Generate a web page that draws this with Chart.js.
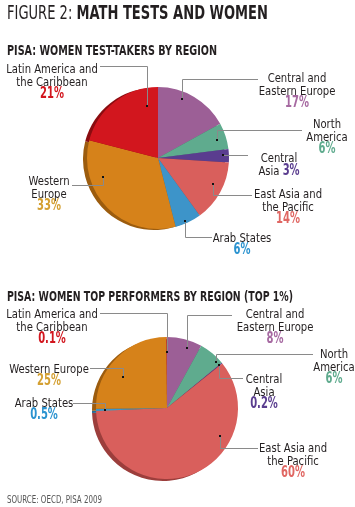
<!DOCTYPE html>
<html><head><meta charset="utf-8">
<script src="https://cdn.jsdelivr.net/npm/chart.js@4.4.1/dist/chart.umd.min.js"></script>
<style>
html,body{margin:0;padding:0;background:#fff;width:355px;height:507px;overflow:hidden;}
body{position:relative;font-family:"DejaVu Sans Condensed","Liberation Sans Narrow","Arial Narrow",sans-serif;font-stretch:condensed;color:#231f20;}
canvas{position:absolute;left:0;top:0;}
.t{position:absolute;left:7px;white-space:nowrap;z-index:2;transform-origin:0 0;}
#title{top:1px;font-size:19px;line-height:22px;font-weight:400;}
#title b{font-weight:700;}
.sub{font-size:14px;font-weight:700;line-height:17px;}
#sub1{top:42px;}
#sub2{top:288px;}
#src{top:494px;font-size:10px;line-height:12px;color:#555;}
</style></head><body>
<div class="t" id="title" data-w="261">FIGURE 2: <b>MATH TESTS AND WOMEN</b></div>
<div class="t sub" id="sub1" data-w="210">PISA: WOMEN TEST-TAKERS BY REGION</div>
<div class="t sub" id="sub2" data-w="286">PISA: WOMEN TOP PERFORMERS BY REGION (TOP 1%)</div>
<div class="t" id="src" data-w="95">SOURCE: OECD, PISA 2009</div>
<div style="position:absolute;left:0;top:0;width:355px;height:507px;"><canvas id="c1" width="355" height="507"></canvas></div>
<div style="position:absolute;left:0;top:0;width:355px;height:507px;"><canvas id="c2" width="355" height="507"></canvas></div>
<script>
// ---- data ----
const regions = ["Central and Eastern Europe","North America","Central Asia","East Asia and the Pacific","Arab States","Western Europe","Latin America and the Caribbean"];
const testTakers = [17, 6, 3, 14, 6, 33, 21];
const topPerformers = [8, 6, 0.2, 60, 0.5, 25, 0.1];
const pctLabels1 = ["17%","6%","3%","14%","6%","33%","21%"];
const pctLabels2 = ["8%","6%","0.2%","60%","0.5%","25%","0.1%"];
// ---- styles ----
const sliceColors = ["#9c5f96","#5fab8e","#5a3d8f","#d95f5c","#3d94c9","#d6821a","#d2161e"];
const rimColors   = ["#6e3f6a","#3f7a63","#3b275f","#9c3e3c","#276a92","#9c5c0e","#8a0c10"];
const textColors  = ["#a669a1","#5fab8e","#5a3d8f","#e06763","#2b93d0","#d4a032","#d2161e"];
const nameLines = [["Central and","Eastern Europe"],["North","America"],["Central","Asia"],["East Asia and","the Pacific"],["Arab States"],["Western","Europe"],["Latin America and","the Caribbean"]];
const nameLines2 = [["Central and","Eastern Europe"],["North","America"],["Central","Asia"],["East Asia and","the Pacific"],["Arab States"],["Western Europe"],["Latin America and","the Caribbean"]];

// squeeze HTML titles to the reference widths
document.querySelectorAll('.t').forEach(el=>{
  const w = el.getBoundingClientRect().width;
  el.style.transform = 'scaleX(' + (parseFloat(el.dataset.w)/w) + ')';
});

// layout: anchor (t along arc, f of radius), elbowY, endX, label cx, first baseline
const layout1 = [
 {t:0.36,f:0.90,ey:79, ex:258,cx:297,y:82},
 {t:0.55,f:0.87,ey:130,ex:302,cx:327,y:128},
 {t:0.43,f:0.92,ey:null,ex:248,cx:279,y:162,inline:true},
 {t:0.43,f:0.86,ey:195,ex:252,cx:288,y:198},
 {t:0.61,f:0.97,ey:237,ex:212,cx:242,y:242},
 {t:0.72,f:0.82,ey:185,ex:72, cx:49, y:185},
 {t:0.84,f:0.75,ey:66, ex:100,cx:52, y:73}
];
const layout2 = [
 {t:0.64,f:0.89,ey:315,ex:232,cx:275,y:318},
 {t:0.83,f:0.95,ey:354,ex:313,cx:334,y:358},
 {t:0.5, f:0.95,ey:378,ex:243,cx:264,y:383},
 {t:0.31,f:0.84,ey:448,ex:258,cx:293,y:452},
 {t:0.5, f:0.87,ey:403,ex:73, cx:44, y:407},
 {t:0.39,f:0.76,ey:368,ex:90, cx:49, y:373},
 {t:0.5, f:0.79,ey:313,ex:100,cx:52, y:318}
];
const FONT = '"DejaVu Sans Condensed","Liberation Sans Narrow","Arial Narrow",sans-serif';
const NAME_FONT = '13px ' + FONT, NAME_SX = 0.86;
const PCT_FONT = 'bold 15px ' + FONT, PCT_SX = 0.74;

function txt(ctx, s, x, y, align, sx){
  ctx.save(); ctx.translate(x, y); ctx.scale(sx, 1);
  ctx.textAlign = align; ctx.textBaseline = 'alphabetic';
  ctx.fillText(s, 0, 0); ctx.restore();
}
function arcPath(ctx, x, y, r, a0, a1){
  ctx.beginPath(); ctx.moveTo(x,y); ctx.arc(x,y,r,a0,a1); ctx.closePath();
}
const rimPlugin = {
  id:'rim',
  beforeDatasetsDraw(chart, args, opts){
    const ctx = chart.ctx; const meta = chart.getDatasetMeta(0);
    ctx.save();
    meta.data.forEach((arc,i)=>{
      const p = arc.getProps(['x','y','startAngle','endAngle','outerRadius']);
      ctx.fillStyle = rimColors[i];
      arcPath(ctx, p.x+opts.dx, p.y+opts.dy, p.outerRadius, p.startAngle, p.endAngle);
      ctx.fill();
    });
    ctx.restore();
  }
};
const labelPlugin = {
  id:'labels',
  afterDatasetsDraw(chart, args, opts){
    const ctx = chart.ctx; const meta = chart.getDatasetMeta(0);
    const L = opts.layout;
    ctx.save();
    meta.data.forEach((arc,i)=>{
      const p = arc.getProps(['x','y','startAngle','endAngle','outerRadius']);
      const l = L[i];
      const a = p.startAngle + (p.endAngle-p.startAngle)*l.t;
      const dx = Math.round(p.x + Math.cos(a)*p.outerRadius*l.f) + 0.5;
      const dy = Math.round(p.y + Math.sin(a)*p.outerRadius*l.f) + 0.5;
      ctx.strokeStyle = '#8a8a8a'; ctx.lineWidth = 1;
      ctx.beginPath(); ctx.moveTo(dx, dy);
      const ey = l.ey==null ? dy : l.ey + 0.5;
      ctx.lineTo(dx, ey); ctx.lineTo(l.ex, ey); ctx.stroke();
      ctx.fillStyle = '#111'; ctx.fillRect(dx-1.5, dy-1.5, 2, 2);
      const names = opts.names[i];
      let y = l.y;
      names.forEach((s,k)=>{
        if (l.inline && k===names.length-1){
          ctx.font = NAME_FONT;
          const w1 = ctx.measureText(s + ' ').width*NAME_SX;
          ctx.font = PCT_FONT;
          const w2 = ctx.measureText(opts.pcts[i]).width*PCT_SX;
          const x0 = l.cx - (w1+w2)/2;
          ctx.font = NAME_FONT; ctx.fillStyle = '#231f20';
          txt(ctx, s + ' ', x0, y, 'left', NAME_SX);
          ctx.font = PCT_FONT; ctx.fillStyle = textColors[i];
          txt(ctx, opts.pcts[i], x0+w1, y, 'left', PCT_SX);
        } else {
          ctx.font = NAME_FONT; ctx.fillStyle = '#231f20';
          txt(ctx, s, l.cx, y, 'center', NAME_SX);
        }
        y += 13;
      });
      if (!l.inline){
        ctx.font = PCT_FONT; ctx.fillStyle = textColors[i];
        txt(ctx, opts.pcts[i], l.cx, y - 1, 'center', PCT_SX);
      }
    });
    ctx.restore();
  }
};

function makePie(id, values, pcts, names, layout, padding, rim){
  return new Chart(document.getElementById(id), {
    type:'pie',
    data:{labels:regions, datasets:[{data:values, backgroundColor:sliceColors, borderWidth:0}]},
    options:{
      responsive:false, animation:false,
      layout:{padding:padding},
      events:[],
      plugins:{legend:{display:false}, tooltip:{enabled:false},
        rim:rim, labels:{layout:layout, names:names, pcts:pcts}}
    },
    plugins:[rimPlugin, labelPlugin]
  });
}
makePie('c1', testTakers, pctLabels1, nameLines, layout1, {left:87,right:126,top:87,bottom:278}, {dx:-4,dy:1});
makePie('c2', topPerformers, pctLabels2, nameLines2, layout2, {left:96,right:117,top:337,bottom:28}, {dx:-4,dy:2});
</script>
</body></html>
